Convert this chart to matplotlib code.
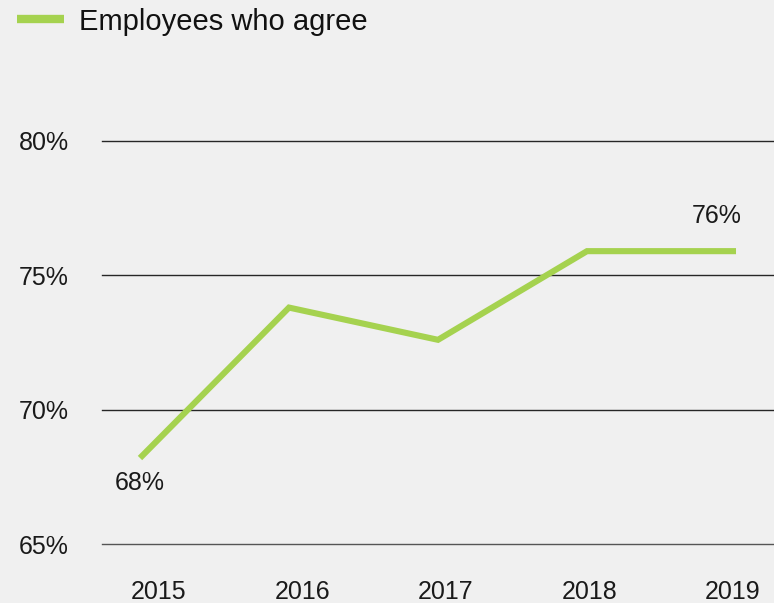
import numpy as np
import matplotlib
matplotlib.use("Agg")
import matplotlib.pyplot as plt
import matplotlib.transforms as mtransforms

plt.rcParams['font.family'] = ['Liberation Sans', 'DejaVu Sans']

years = ['2015', '2016', '2017', '2018', '2019']
agree = [68.2, 73.8, 72.6, 75.9, 75.9]  # % of employees who agree
yticks = [65, 70, 75, 80]

bg = '#f0f0f0'
green = '#a5d24f'
ink = '#1a1a1a'

fig = plt.figure(figsize=(7.74, 6.03), dpi=100, facecolor=bg)
ax = fig.add_axes([102 / 774, 59 / 603, 672 / 774, 403 / 603], facecolor=bg)

x = np.arange(len(years))
ax.plot(x, agree, color=green, lw=4.4, solid_capstyle='butt', solid_joinstyle='miter')

ax.set_xlim(-0.255, 4.255)
ax.set_ylim(65, 80)

# horizontal gridlines instead of spines
for v in yticks:
    ax.axhline(v, color='#555555' if v == 65 else '#262626', lw=1.0, zorder=0, clip_on=False)
for s in ax.spines.values():
    s.set_visible(False)

ax.set_yticks(yticks)
ax.set_yticklabels([f'{v}%' for v in yticks], fontsize=18, color=ink)
ax.set_xticks(x)
ax.set_xticklabels(years, fontsize=18, color=ink)
ax.tick_params(axis='y', length=0, pad=24)
ax.tick_params(axis='x', length=0, pad=26)
# year labels sit a little right of their points, less so toward the right edge
for i, lab in enumerate(ax.get_xticklabels()):
    shift = mtransforms.ScaledTranslation((19 - 5.5 * i) / 100, 0, fig.dpi_scale_trans)
    lab.set_transform(lab.get_transform() + shift)

# value labels at first and last point
ax.annotate(f'{agree[0]:.0f}%', (x[0], agree[0]), xytext=(0, -18), textcoords='offset points',
            ha='center', va='center', fontsize=18, color=ink)
ax.annotate(f'{agree[-1]:.0f}%', (x[-1], agree[-1]), xytext=(-14, 25), textcoords='offset points',
            ha='center', va='center', fontsize=18, color=ink)

# legend drawn by hand at the top left
fig.add_artist(plt.Line2D([17 / 774, 64 / 774], [1 - 19 / 603, 1 - 19 / 603], color=green, lw=6,
                          solid_capstyle='butt', transform=fig.transFigure))
fig.text(79 / 774, 1 - 22 / 603, 'Employees who agree', fontsize=21, color='#111111',
         ha='left', va='center')

fig.savefig('out.png', dpi=100, facecolor=bg)
